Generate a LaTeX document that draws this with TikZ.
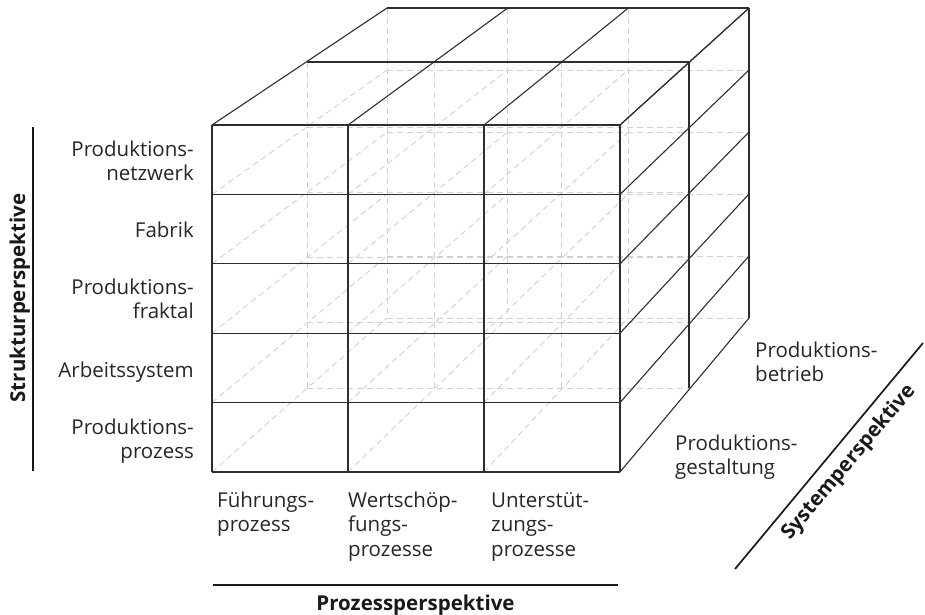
\documentclass[tikz,border=0pt]{standalone}
\usepackage{fontspec}
\setmainfont{Open Sans}
\begin{document}
\begin{tikzpicture}[x=1pt,y=-1pt,
  edge/.style={draw=black!82, line width=1.1pt},
  hidden/.style={draw=black!18, line width=0.9pt, dash pattern=on 6pt off 4pt},
  axisline/.style={draw=black!90, line width=1.7pt},
  lbl/.style={font=\fontsize{20.5}{24.5}\selectfont, inner sep=0pt, text=black!85},
  axislbl/.style={font=\fontsize{20.5}{24.5}\selectfont\bfseries, inner sep=0pt, text=black!90}]
\useasboundingbox (0,0) rectangle (925,614);

% lattice points p<i><j><k>: column i, row j, depth layer k (0 = front)
\foreach \k/\L/\R/\T/\B in {0/212/620/125/472,1/307/689/62/388,2/387/749/8/318}{
  \foreach \i in {0,...,3}{
    \foreach \j in {0,...,5}{
      \coordinate (p\i\j\k) at ({\L+\i*(\R-\L)/3},{\T+\j*(\B-\T)/5});
    }
  }
}

% hidden edges inside the cube
\foreach \k in {1,2}{
  \foreach \j in {1,...,5}{ \draw[hidden] (p0\j\k) -- (p3\j\k); }
  \foreach \i in {0,1,2}{ \draw[hidden] (p\i0\k) -- (p\i5\k); }
}
\foreach \i in {0,1,2}{
  \foreach \j in {1,...,5}{ \draw[hidden] (p\i\j0) -- (p\i\j2); }
}

% front face
\foreach \j in {0,...,5}{ \draw[edge] (p0\j0) -- (p3\j0); }
\foreach \i in {0,...,3}{ \draw[edge] (p\i00) -- (p\i50); }
% top face
\foreach \k in {1,2}{ \draw[edge] (p00\k) -- (p30\k); }
\foreach \i in {0,...,3}{ \draw[edge] (p\i00) -- (p\i02); }
% right face
\foreach \k in {1,2}{ \draw[edge] (p30\k) -- (p35\k); }
\foreach \j in {0,...,5}{ \draw[edge] (p3\j0) -- (p3\j2); }

% structure levels
\node[lbl, anchor=base east] (s1a) at (194,156) {Produktions-};
\node[lbl, anchor=base east] (s1b) at (194,180.5) {netzwerk};
\node[lbl, anchor=base east] (s2) at (194,237) {Fabrik};
\node[lbl, anchor=base east] (s3a) at (194,294) {Produktions-};
\node[lbl, anchor=base east] (s3b) at (194,318.5) {fraktal};
\node[lbl, anchor=base east] (s4) at (194,377) {Arbeitssystem};
\node[lbl, anchor=base east] (s5a) at (194,434) {Produktions-};
\node[lbl, anchor=base east] (s5b) at (194,458.5) {prozess};

% process types
\node[lbl, anchor=base west] (q1a) at (217,507) {Führungs-};
\node[lbl, anchor=base west] (q1b) at (217,531.5) {prozess};
\node[lbl, anchor=base west] (q2a) at (348,507) {Wertschöp-};
\node[lbl, anchor=base west] (q2b) at (348,531.5) {fungs-};
\node[lbl, anchor=base west] (q2c) at (348,556) {prozesse};
\node[lbl, anchor=base west] (q3a) at (491,507) {Unterstüt-};
\node[lbl, anchor=base west] (q3b) at (491,531.5) {zungs-};
\node[lbl, anchor=base west] (q3c) at (491,556) {prozesse};

% system levels
\node[lbl, anchor=base west] (r1a) at (755,357) {Produktions-};
\node[lbl, anchor=base west] (r1b) at (755,381.5) {betrieb};
\node[lbl, anchor=base west] (r2a) at (675,450) {Produktions-};
\node[lbl, anchor=base west] (r2b) at (675,474.5) {gestaltung};

% perspective axes
\coordinate (sA) at (33,127);
\coordinate (sB) at (33,471);
\draw[axisline] (sA) -- (sB);
\node[axislbl, anchor=base, rotate=90] (sl) at (25,298) {Strukturperspektive};

\coordinate (pA) at (213,585);
\coordinate (pB) at (618,585);
\draw[axisline] (pA) -- (pB);
\node[axislbl, anchor=base] (pl) at (415.5,610) {Prozessperspektive};

\coordinate (yA) at (735,569);
\coordinate (yB) at (923,343);
\draw[axisline] (yA) -- (yB);
\node[axislbl, anchor=base, rotate=50] (yl) at (853,466) {Systemperspektive};
\end{tikzpicture}
\end{document}
